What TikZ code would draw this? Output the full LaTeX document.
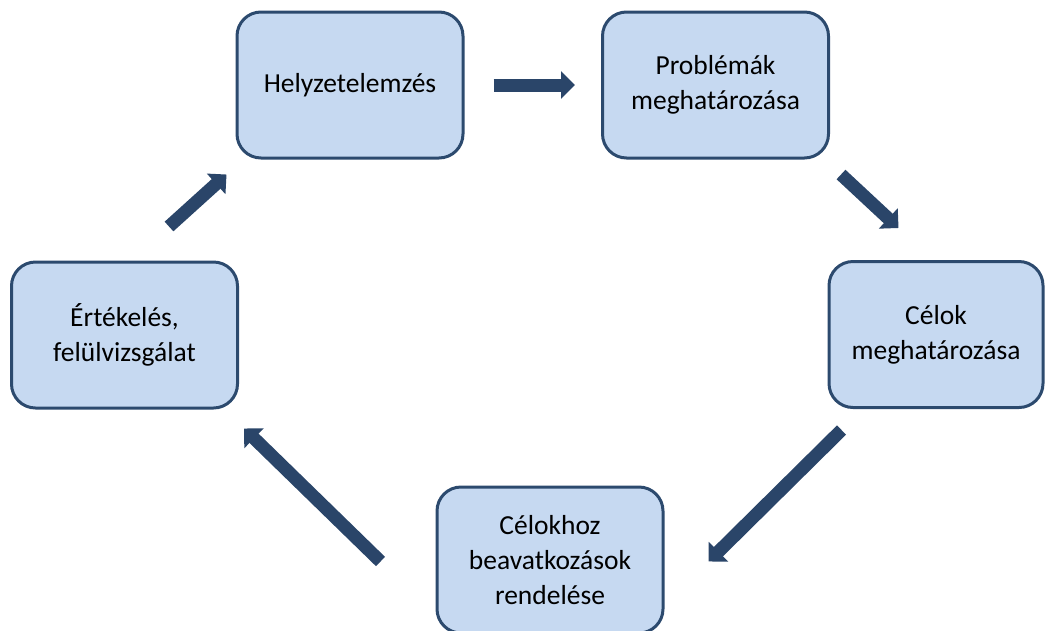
\documentclass[tikz,border=0pt]{standalone}
\usepackage{fontspec}
\setmainfont{Carlito}
\usetikzlibrary{arrows.meta}

\definecolor{boxfill}{HTML}{C6D9F1}
\definecolor{boxline}{HTML}{2C4A6E}
\definecolor{arrowblue}{HTML}{2A4569}

\tikzset{
  stage/.style={rectangle, rounded corners=24pt, fill=boxfill, draw=boxline,
    line width=3pt, minimum width=226pt, minimum height=146pt,
    align=center, font=\fontsize{27.5}{35}\selectfont},
  flow/.style={draw=arrowblue, line width=13pt,
    -{Triangle[length=14pt,width=27pt]}}
}

\begin{document}
\begin{tikzpicture}[x=1pt,y=-1pt]
\useasboundingbox (0,0) rectangle (1046,630);

\node[stage] (helyzet) at (350,85) {Helyzetelemzés};

\node[stage] (probl) at (715.5,85) {Problémák\\meghatározása};

\node[stage, minimum width=214pt] (celok) at (936,334.5)
          {Célok\\meghatározása};

\node[stage] (rendel) at (550,560)
          {Célokhoz\\beavatkozások\\rendelése};

\node[stage] (ertek) at (124.5,335) {Értékelés,\\felülvizsgálat};

% cycle arrows
\draw[flow, shorten <=29pt, shorten >=26pt] (helyzet) -- (probl);
\draw[flow] ([shift={(11,15)}]probl.south east)
          -- ([shift={(71,-32)}]celok.north west);
\draw[flow] ([shift={(14,21)}]celok.south west)
          -- ([shift={(44,76)}]rendel.north east);
\draw[flow] ([shift={(-55,76)}]rendel.north west)
          -- ([shift={(5,19)}]ertek.south east);
\draw[flow] ([shift={(-70,-34)}]ertek.north east)
          -- ([shift={(-9,15)}]helyzet.south west);
\end{tikzpicture}
\end{document}
